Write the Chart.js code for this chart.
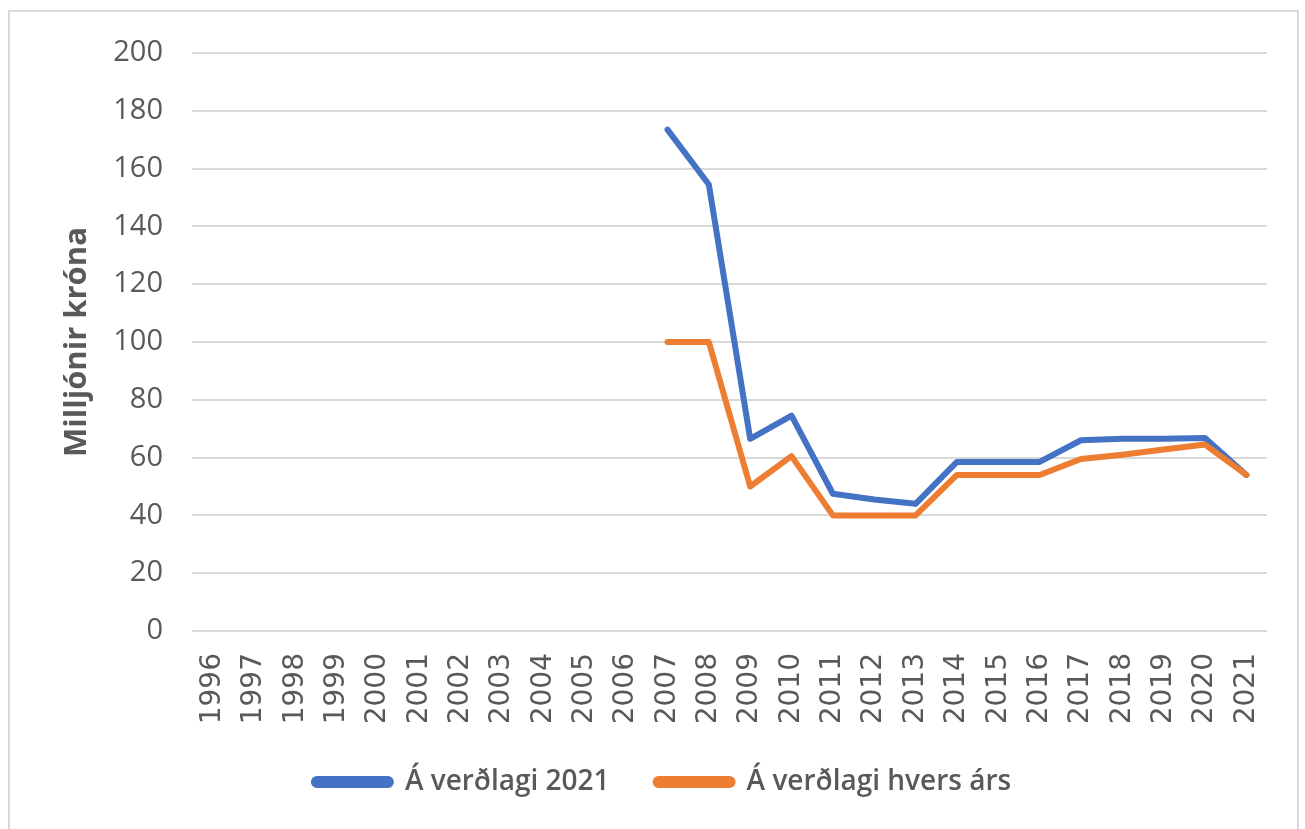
<!DOCTYPE html>
<html>
<head>
<meta charset="utf-8">
<script src="https://cdn.jsdelivr.net/npm/chart.js@4"></script>
<style>
  html, body { margin: 0; padding: 0; background: #fff; }
  #wrap { position: relative; width: 1305px; height: 829px; }
  #frame { position: absolute; left: 8px; top: 10px; width: 1287px; height: 830px;
           border: 2px solid #d9d9d9; pointer-events: none; }
</style>
</head>
<body>
<div id="wrap">
  <canvas id="chart" width="1305" height="829"></canvas>
  <div id="frame"></div>
</div>
<script>
// ─── DATA ───────────────────────────────────────────────
const years = ['1996', '1997', '1998', '1999', '2000', '2001', '2002', '2003', '2004',
  '2005', '2006', '2007', '2008', '2009', '2010', '2011', '2012', '2013', '2014',
  '2015', '2016', '2017', '2018', '2019', '2020', '2021'];

// Á verðlagi 2021
const fixedPrices = [null, null, null, null, null, null, null, null, null, null, null,
  173.5, 154.5, 66.5, 74.5, 47.5, 45.5, 44, 58.5, 58.5, 58.5, 66, 66.5, 66.5, 66.8, 54];

// Á verðlagi hvers árs
const currentPrices = [null, null, null, null, null, null, null, null, null, null, null,
  100, 100, 50, 60.5, 40, 40, 40, 54, 54, 54, 59.5, 61, 62.8, 64.5, 54];

const seriesLabels = ['Á verðlagi 2021', 'Á verðlagi hvers árs'];
const yTitle = 'Milljónir króna';

const GREY = '#595959';
const GRID = '#d9d9d9';

new Chart(document.getElementById('chart'), {
  type: 'line',
  data: {
    labels: years,
    datasets: [
      {
        label: seriesLabels[0],
        data: fixedPrices,
        borderColor: '#4472c4',
        backgroundColor: '#4472c4',
        borderWidth: 6,
        pointRadius: 0,
        borderCapStyle: 'round',
        borderJoinStyle: 'round',
        order: 2,
      },
      {
        label: seriesLabels[1],
        data: currentPrices,
        borderColor: '#ed7d31',
        backgroundColor: '#ed7d31',
        borderWidth: 6,
        pointRadius: 0,
        borderCapStyle: 'round',
        borderJoinStyle: 'round',
        order: 1,
      }
    ]
  },
  options: {
    responsive: false,
    animation: false,
    layout: { padding: { left: 58, right: 38, top: 53, bottom: 23 } },
    plugins: {
      tooltip: { enabled: false },
      legend: {
        position: 'bottom',
        labels: {
          boxWidth: 77,
          boxHeight: 6,
          padding: 46,
          useBorderRadius: true,
          borderRadius: 3,
          color: GREY,
          font: { family: 'Open Sans', size: 28, weight: '600' },
          sort: (a, b) => a.datasetIndex - b.datasetIndex,
        }
      }
    },
    scales: {
      x: {
        offset: true,
        grid: { display: false },
        border: { display: false },
        ticks: {
          color: GREY,
          font: { family: 'DejaVu Sans', size: 28 },
          minRotation: 90,
          maxRotation: 90,
          autoSkip: false,
          padding: 14,
        },
        afterFit(scale) { scale.height = 91; },
      },
      y: {
        min: 0,
        max: 200,
        grid: { color: GRID, lineWidth: 2, drawTicks: false },
        border: { display: false },
        ticks: {
          stepSize: 20,
          color: GREY,
          padding: 29,
          font: { family: 'Open Sans', size: 29 },
        },
        title: {
          display: true,
          text: yTitle,
          color: GREY,
          padding: { top: 1 },
          font: { family: 'Open Sans', size: 31, weight: 'bold' },
        },
        afterFit(scale) { scale.width = 134; },
      }
    }
  }
});
</script>
</body>
</html>
